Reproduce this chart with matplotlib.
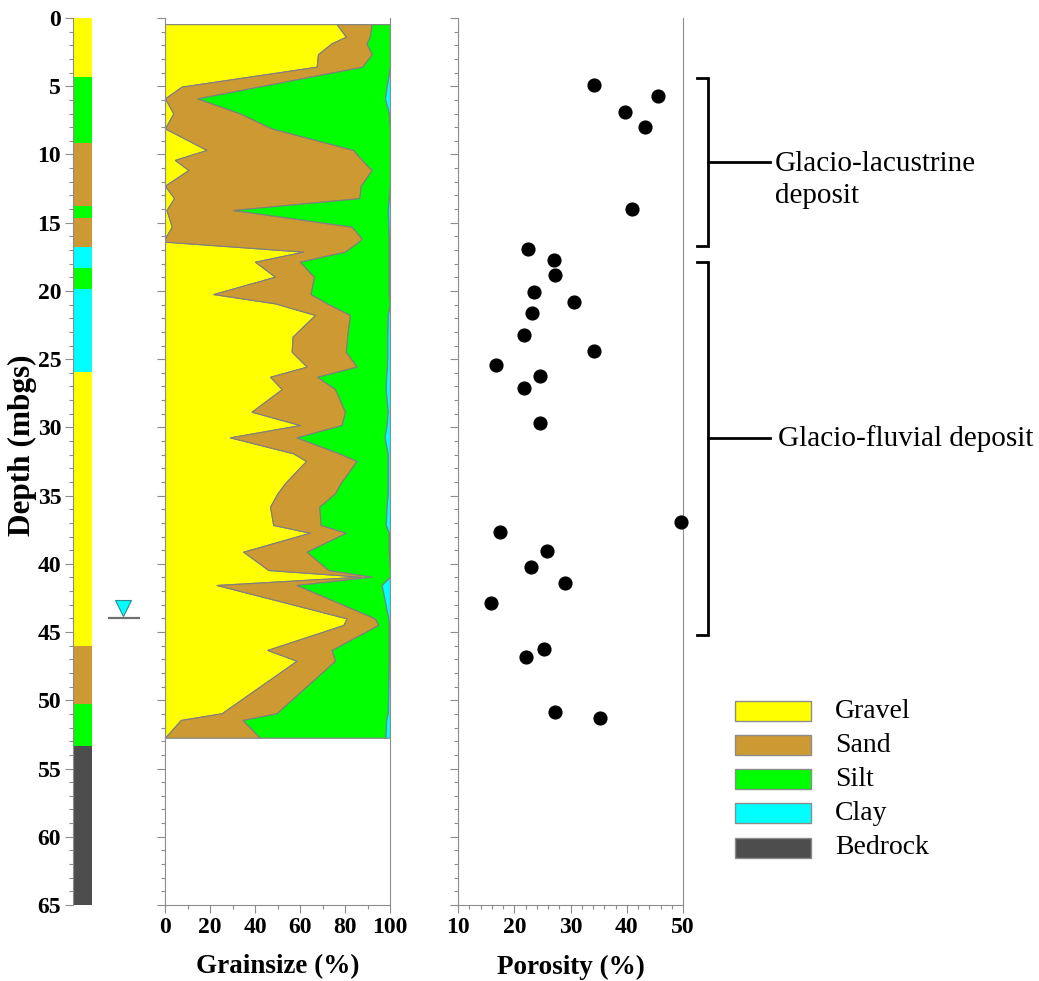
import matplotlib
matplotlib.use('Agg')
import matplotlib.pyplot as plt
from matplotlib.patches import Rectangle
from matplotlib.ticker import MultipleLocator
import numpy as np

plt.rcParams['font.family'] = ['Liberation Serif', 'DejaVu Serif']

# ---------------- data ----------------
lith_top = [0.0, 4.3, 9.18, 13.75, 14.68, 16.8, 18.35, 19.86, 25.92, 46.0, 50.3, 53.35]
lith_bottom = [4.3, 9.18, 13.75, 14.68, 16.8, 18.35, 19.86, 25.92, 46.0, 50.3, 53.35, 65.0]
lith_type = ['Gravel', 'Silt', 'Sand', 'Silt', 'Sand', 'Clay', 'Silt', 'Clay',
             'Gravel', 'Sand', 'Silt', 'Bedrock']
water_table_depth = 44.0

gs_depth = [0.45, 1.37, 1.86, 2.65, 3.57, 5.03, 5.89, 6.99, 8.09, 9.67, 10.40, 11.14,
            12.29, 13.20, 14.07, 15.29, 16.15, 16.39, 17.12, 17.86, 18.96, 20.23, 20.91,
            21.76, 23.35, 24.45, 25.55, 26.29, 27.20, 28.85, 29.83, 30.73, 31.90, 32.46,
            34.10, 34.83, 35.81, 37.15, 37.72, 39.11, 40.45, 40.94, 41.55, 43.99, 44.48,
            46.31, 47.10, 50.95, 51.44, 52.74]
gravel = [76.3, 80.4, 74.0, 68.0, 67.4, 7.4, 0.0, 3.7, 0.0, 18.5, 4.4, 10.4,
          0.0, 4.0, 0.7, 3.0, 0.0, 0.0, 61.5, 40.0, 48.9, 21.5, 48.9,
          66.7, 56.7, 56.3, 63.0, 46.7, 51.9, 38.5, 60.0, 28.9, 57.0, 62.7,
          53.3, 50.0, 46.7, 48.1, 64.4, 34.8, 45.9, 87.0, 23.0, 80.7, 79.3,
          45.5, 58.5, 25.2, 7.0, 0.0]
sand = [15.6, 10.6, 15.6, 23.9, 20.3, 34.2, 14.4, 29.6, 47.4, 65.2, 83.1, 81.5,
        87.0, 82.4, 29.7, 80.0, 87.4, 86.1, 18.5, 20.0, 17.3, 43.2, 23.1,
        15.5, 24.3, 24.1, 22.2, 21.0, 23.7, 41.5, 18.5, 29.6, 20.3, 22.5,
        24.7, 25.6, 21.9, 21.1, 16.0, 28.2, 26.7, 5.0, 35.5, 12.6, 15.5,
        28.6, 17.1, 24.4, 27.5, 42.2]
silt = [8.1, 9.0, 10.4, 8.1, 12.3, 56.9, 83.4, 66.2, 52.6, 16.3, 12.5, 8.1,
        13.0, 13.1, 68.6, 16.3, 12.1, 13.4, 19.5, 39.5, 33.3, 34.8, 28.0,
        16.8, 17.8, 18.4, 13.5, 30.6, 22.5, 19.0, 20.0, 39.1, 21.7, 13.8,
        21.0, 23.4, 29.9, 28.9, 19.1, 36.5, 27.4, 8.0, 37.8, 6.0, 4.7,
        25.4, 23.9, 49.4, 63.8, 55.8]
clay = [0.0, 0.0, 0.0, 0.0, 0.0, 1.5, 2.2, 0.5, 0.0, 0.0, 0.0, 0.0,
        0.0, 0.5, 1.0, 0.7, 0.5, 0.5, 0.5, 0.5, 0.5, 0.5, 0.0,
        1.0, 1.2, 1.2, 1.3, 1.7, 1.9, 1.0, 1.5, 2.4, 1.0, 1.0,
        1.0, 1.0, 1.5, 1.9, 0.5, 0.5, 0.0, 0.0, 3.7, 0.7, 0.5,
        0.5, 0.5, 1.0, 1.7, 2.0]

por_depth = [4.91, 5.74, 6.89, 7.96, 13.97, 16.93, 17.76, 18.86, 20.10, 20.81, 21.62,
             23.20, 24.38, 25.43, 26.23, 27.09, 29.66, 36.96, 37.64, 39.03, 40.26,
             41.43, 42.85, 46.27, 46.85, 50.88, 51.30]
porosity = [34.2, 45.5, 39.7, 43.2, 40.9, 22.4, 27.1, 27.2, 23.5, 30.6, 23.1,
            21.8, 34.2, 16.7, 24.5, 21.8, 24.5, 49.6, 17.5, 25.8, 22.9,
            29.0, 15.8, 25.2, 22.1, 27.3, 35.3]

unit_labels = ['Glacio-lacustrine\ndeposit', 'Glacio-fluvial deposit']
unit_top = [4.4, 17.88]
unit_bottom = [16.71, 45.2]
unit_mid = [10.55, 30.78]

legend_labels = ['Gravel', 'Sand', 'Silt', 'Clay', 'Bedrock']
colors = {'Gravel': '#FFFF00', 'Sand': '#CC9933', 'Silt': '#00FF00',
          'Clay': '#00FFFF', 'Bedrock': '#4D4D4D'}

# ---------------- layout ----------------
W, H = 1039, 981
fig = plt.figure(figsize=(W / 100, H / 100), dpi=100)


def rect(x0, x1, y0, y1):
    return [x0 / W, 1 - y1 / H, (x1 - x0) / W, (y1 - y0) / H]


GRAY = '#8C8C8C'
TICKFS = 17
LABFS = 19.5

ax_lith = fig.add_axes(rect(73, 150, 18, 905))
ax_gs = fig.add_axes(rect(165, 390, 18, 905))
ax_por = fig.add_axes(rect(458, 683, 18, 905))

for ax in (ax_lith, ax_gs, ax_por):
    ax.set_ylim(65, 0)
    ax.yaxis.set_major_locator(MultipleLocator(5))
    ax.yaxis.set_minor_locator(MultipleLocator(1))
    ax.tick_params(axis='both', which='major', length=6, width=0.8, color=GRAY,
                   direction='out', pad=2.5, labelsize=TICKFS)
    ax.tick_params(axis='both', which='minor', length=3, width=0.8, color=GRAY,
                   direction='out')
    for s in ax.spines.values():
        s.set_color(GRAY)
        s.set_linewidth(0.8)
    ax.spines['top'].set_visible(False)

# lithology column
bar_w = 1.0
ax_lith.set_xlim(0, 77 / 19)
for t, b, k in zip(lith_top, lith_bottom, lith_type):
    ax_lith.bar(0, b - t, bottom=t, width=bar_w, align='edge', color=colors[k],
                linewidth=0)
ax_lith.spines['right'].set_visible(False)
ax_lith.spines['bottom'].set_visible(False)
ax_lith.set_xticks([])
for lab in ax_lith.get_yticklabels():
    lab.set_fontweight('bold')
# water table
ax_lith.hlines(water_table_depth, 1.84, 3.53, color='#707070', lw=1.6)
ax_lith.plot([2.63], [water_table_depth - 0.73], marker='v', ms=12,
             mfc='#00FFFF', mec='#2E8B8B', mew=0.8, ls='none')

# grain size stacked areas
d = np.array(gs_depth)
c1 = np.array(gravel)
c2 = c1 + np.array(sand)
c3 = c2 + np.array(silt)
c4 = c3 + np.array(clay)
for lo, hi, k in ((np.zeros_like(c1), c1, 'Gravel'), (c1, c2, 'Sand'),
                  (c2, c3, 'Silt'), (c3, c4, 'Clay')):
    ax_gs.fill_betweenx(d, lo, hi, facecolor=colors[k], edgecolor='#7F7F7F',
                        linewidth=0.8)
ax_gs.set_xlim(0, 100)
ax_gs.xaxis.set_major_locator(MultipleLocator(20))
ax_gs.xaxis.set_minor_locator(MultipleLocator(10))
ax_gs.tick_params(axis='y', labelleft=False)
for lab in ax_gs.get_xticklabels():
    lab.set_fontweight('bold')

# porosity
ax_por.plot(porosity, por_depth, 'o', color='black', ms=9.2, ls='none',
            clip_on=False, zorder=5)
ax_por.set_xlim(10, 50)
ax_por.xaxis.set_major_locator(MultipleLocator(10))
ax_por.xaxis.set_minor_locator(MultipleLocator(2))
ax_por.tick_params(axis='y', labelleft=False)
for lab in ax_por.get_xticklabels():
    lab.set_fontweight('bold')

# axis labels
fig.text(277.5 / W, 1 - 967 / H, 'Grainsize (%)', ha='center', va='center',
         fontsize=LABFS, fontweight='bold')
fig.text(570.5 / W, 1 - 967 / H, 'Porosity (%)', ha='center', va='center',
         fontsize=LABFS, fontweight='bold')
fig.text(22.5 / W, 1 - 445 / H, 'Depth (mbgs)', ha='center', va='center',
         rotation=90, fontsize=22.5, fontweight='bold')

# unit brackets
xl, xr, xt = 52.5, 54.4, 65.5
for lab, t, b, m, tx in zip(unit_labels, unit_top, unit_bottom, unit_mid, [66.4, 66.9]):
    ax_por.plot([xl, xr, xr, xl], [t, t, b, b], color='black', lw=2,
                clip_on=False, solid_joinstyle='miter')
    ax_por.plot([xr, xt], [m, m], color='black', lw=2, clip_on=False)
    if '\n' in lab:
        ax_por.text(tx, m + 1.35, lab, ha='left', va='center', fontsize=21,
                    linespacing=1.3, clip_on=False)
    else:
        ax_por.text(tx, m, lab, ha='left', va='center', fontsize=21, clip_on=False)

# legend
box_tops = [701, 735, 769, 803, 838]
for lab, yt in zip(legend_labels, box_tops):
    fig.patches.append(Rectangle((735 / W, 1 - (yt + 20) / H), 76 / W, 20 / H,
                                 transform=fig.transFigure, facecolor=colors[lab],
                                 edgecolor='#8C8C8C', linewidth=1))
    fig.text(835 / W, 1 - (yt + 10) / H, lab, ha='left', va='center', fontsize=20)

fig.savefig('out.png', dpi=100)
